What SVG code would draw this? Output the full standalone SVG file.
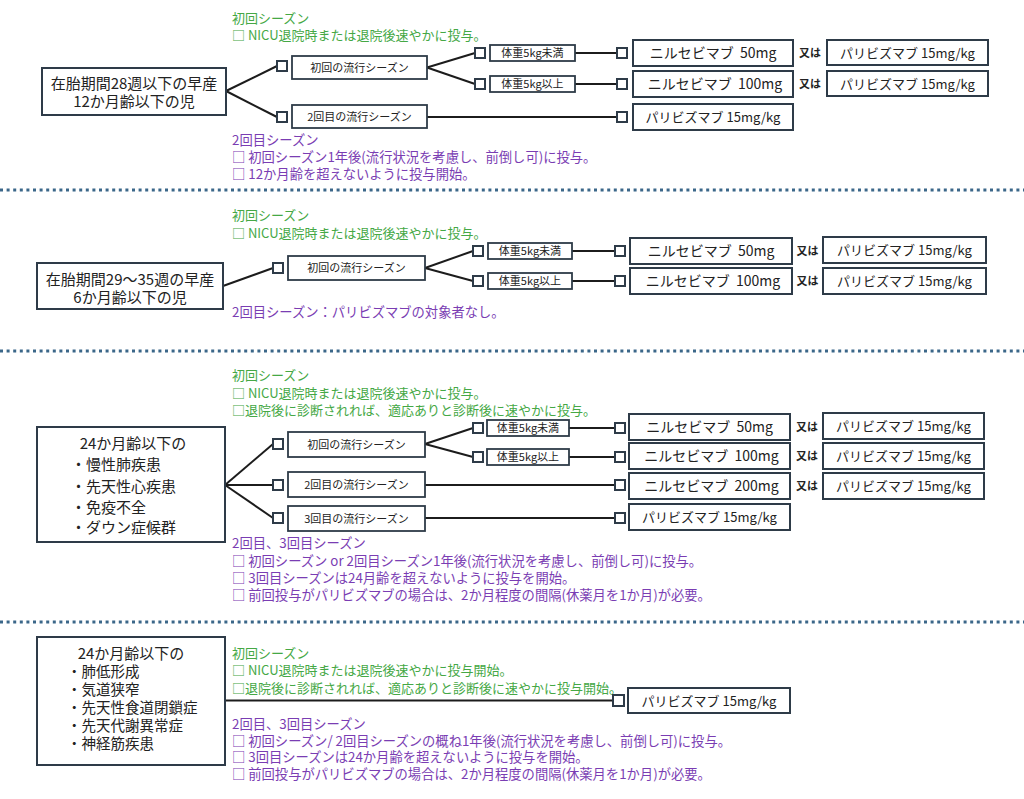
<svg xmlns="http://www.w3.org/2000/svg" width="1024" height="799" viewBox="0 0 1024 799">
<style>
text{font-family:"Noto Sans CJK JP","Noto Sans CJK SC",sans-serif}
.box{fill:#fff;stroke:#2e3b48;stroke-width:2}
.sb{fill:#fff;stroke:#2e3b48;stroke-width:1.8}
.cb{fill:#fff;stroke:#2e3b48;stroke-width:2}
.ln{stroke:#1c1c1c;stroke-width:2;fill:none}
.dot{stroke:#3b6789;stroke-width:3;stroke-dasharray:3 3.6;fill:none}
.mt{font-size:15px;fill:#222;text-anchor:middle}
.bt{font-size:15px;fill:#222}
.bt4{font-size:14.5px;fill:#222}
.st{font-size:11px;fill:#222;text-anchor:middle}
.wt{font-size:11px;fill:#222;text-anchor:middle}
.dt{font-size:14px;fill:#222;text-anchor:middle;white-space:pre}
.pt{font-size:13px;fill:#222;text-anchor:middle}
.or{font-size:11px;fill:#222;font-weight:bold;text-anchor:middle}
.g{font-size:13px;fill:#45a845}
.p{font-size:13.3px;fill:#7a3db3}
</style>
<rect width="1024" height="799" fill="#fff"/>

<g id="dividers">
<line class="dot" x1="0" y1="190" x2="1024" y2="190"/>
<line class="dot" x1="0" y1="351" x2="1024" y2="351"/>
<line class="dot" x1="0" y1="622" x2="1024" y2="622"/>
</g>

<g id="connectors">
<line class="ln" x1="226" y1="91" x2="277" y2="66"/>
<line class="ln" x1="226" y1="91" x2="277" y2="117"/>
<line class="ln" x1="427" y1="67.5" x2="475" y2="53"/>
<line class="ln" x1="427" y1="67.5" x2="475" y2="84"/>
<line class="ln" x1="575" y1="53" x2="617" y2="53"/>
<line class="ln" x1="575" y1="84" x2="617" y2="84"/>
<line class="ln" x1="427" y1="117" x2="617" y2="117"/>

<line class="ln" x1="223" y1="286" x2="273" y2="268"/>
<line class="ln" x1="425" y1="268" x2="473" y2="251"/>
<line class="ln" x1="425" y1="268" x2="473" y2="281"/>
<line class="ln" x1="572" y1="251" x2="615" y2="251"/>
<line class="ln" x1="572" y1="281" x2="615" y2="281"/>

<line class="ln" x1="225" y1="485" x2="273" y2="444"/>
<line class="ln" x1="225" y1="485" x2="273" y2="485"/>
<line class="ln" x1="225" y1="485" x2="273" y2="518"/>
<line class="ln" x1="425" y1="444" x2="473" y2="428"/>
<line class="ln" x1="425" y1="444" x2="473" y2="457"/>
<line class="ln" x1="569" y1="428" x2="615" y2="428"/>
<line class="ln" x1="569" y1="457" x2="615" y2="457"/>
<line class="ln" x1="425" y1="485" x2="615" y2="485"/>
<line class="ln" x1="425" y1="518" x2="615" y2="518"/>

<line class="ln" x1="225" y1="700.5" x2="613" y2="700.5"/>
</g>

<!-- Section 1 -->
<g id="note1a">
<text class="g" x="232" y="23">初回シーズン</text>
<text class="g" x="232" y="40">□ NICU退院時または退院後速やかに投与。</text>
</g>
<g id="n1">
<rect class="box" x="42" y="68" width="184" height="47"/>
<text class="mt" x="134" y="89">在胎期間28週以下の早産</text>
<text class="mt" x="134" y="107">12か月齢以下の児</text>
</g>
<g id="s1a">
<rect class="cb" x="277" y="61" width="10" height="10"/>
<rect class="sb" x="292" y="56" width="135" height="23"/>
<text class="st" x="359.5" y="71.5">初回の流行シーズン</text>
</g>
<g id="s1b">
<rect class="cb" x="277" y="112" width="10" height="10"/>
<rect class="sb" x="292" y="105" width="135" height="23"/>
<text class="st" x="359.5" y="120.5">2回目の流行シーズン</text>
</g>
<g id="w1a">
<rect class="cb" x="475" y="48" width="10" height="10"/>
<rect class="sb" x="490" y="45" width="85" height="16"/>
<text class="wt" x="532.5" y="57">体重5kg未満</text>
</g>
<g id="w1b">
<rect class="cb" x="475" y="79" width="10" height="10"/>
<rect class="sb" x="490" y="76" width="85" height="16"/>
<text class="wt" x="532.5" y="88">体重5kg以上</text>
</g>
<g id="d1a">
<rect class="cb" x="617" y="48" width="10" height="10"/>
<rect class="box" x="633" y="40" width="160" height="26"/>
<text class="dt" x="713" y="58" xml:space="preserve">ニルセビマブ  50mg</text>
</g>
<g id="or1a"><text class="or" x="810" y="57">又は</text></g>
<g id="p1a">
<rect class="box" x="827" y="40" width="161" height="25"/>
<text class="pt" x="907.5" y="57.5">パリビズマブ 15mg/kg</text>
</g>
<g id="d1b">
<rect class="cb" x="617" y="79" width="10" height="10"/>
<rect class="box" x="633" y="71" width="160" height="26"/>
<text class="dt" x="715" y="89" xml:space="preserve">ニルセビマブ  100mg</text>
</g>
<g id="or1b"><text class="or" x="810" y="88">又は</text></g>
<g id="p1b">
<rect class="box" x="827" y="71" width="161" height="25"/>
<text class="pt" x="907.5" y="88.5">パリビズマブ 15mg/kg</text>
</g>
<g id="p1c">
<rect class="cb" x="617" y="112" width="10" height="10"/>
<rect class="box" x="633" y="104" width="160" height="26"/>
<text class="pt" x="713" y="121.5">パリビズマブ 15mg/kg</text>
</g>
<g id="note1b">
<text class="p" x="232" y="145">2回目シーズン</text>
<text class="p" x="232" y="162">□ 初回シーズン1年後(流行状況を考慮し、前倒し可)に投与。</text>
<text class="p" x="232" y="179">□ 12か月齢を超えないように投与開始。</text>
</g>

<!-- Section 2 -->
<g id="note2a">
<text class="g" x="232" y="220">初回シーズン</text>
<text class="g" x="232" y="238">□ NICU退院時または退院後速やかに投与。</text>
</g>
<g id="n2">
<rect class="box" x="37" y="263" width="186" height="46"/>
<text class="mt" x="130" y="285">在胎期間29～35週の早産</text>
<text class="mt" x="130" y="303">6か月齢以下の児</text>
</g>
<g id="s2a">
<rect class="cb" x="273" y="263" width="10" height="10"/>
<rect class="sb" x="288" y="256" width="137" height="24"/>
<text class="st" x="356.5" y="272">初回の流行シーズン</text>
</g>
<g id="w2a">
<rect class="cb" x="473" y="246" width="10" height="10"/>
<rect class="sb" x="488" y="243" width="84" height="16"/>
<text class="wt" x="530" y="255">体重5kg未満</text>
</g>
<g id="w2b">
<rect class="cb" x="473" y="276" width="10" height="10"/>
<rect class="sb" x="488" y="273" width="84" height="16"/>
<text class="wt" x="530" y="285">体重5kg以上</text>
</g>
<g id="d2a">
<rect class="cb" x="615" y="246" width="10" height="10"/>
<rect class="box" x="630" y="238" width="162" height="26"/>
<text class="dt" x="711" y="256" xml:space="preserve">ニルセビマブ  50mg</text>
</g>
<g id="or2a"><text class="or" x="807.5" y="255">又は</text></g>
<g id="p2a">
<rect class="box" x="823" y="237" width="163" height="26"/>
<text class="pt" x="904.5" y="255">パリビズマブ 15mg/kg</text>
</g>
<g id="d2b">
<rect class="cb" x="615" y="276" width="10" height="10"/>
<rect class="box" x="630" y="268" width="162" height="26"/>
<text class="dt" x="713" y="286" xml:space="preserve">ニルセビマブ  100mg</text>
</g>
<g id="or2b"><text class="or" x="807.5" y="285">又は</text></g>
<g id="p2b">
<rect class="box" x="823" y="268" width="163" height="26"/>
<text class="pt" x="904.5" y="286">パリビズマブ 15mg/kg</text>
</g>
<g id="note2b">
<text class="p" x="232" y="317">2回目シーズン：パリビズマブの対象者なし。</text>
</g>

<!-- Section 3 -->
<g id="note3a">
<text class="g" x="232" y="380">初回シーズン</text>
<text class="g" x="232" y="398">□ NICU退院時または退院後速やかに投与。</text>
<text class="g" x="232" y="415">□退院後に診断されれば、適応ありと診断後に速やかに投与。</text>
</g>
<g id="n3">
<rect class="box" x="37" y="427" width="188" height="115"/>
<text class="mt" x="133" y="448.5">24か月齢以下の</text>
<text class="bt" x="71" y="470">・慢性肺疾患</text>
<text class="bt" x="71" y="492">・先天性心疾患</text>
<text class="bt" x="71" y="512.5">・免疫不全</text>
<text class="bt" x="71" y="533">・ダウン症候群</text>
</g>
<g id="s3a">
<rect class="cb" x="273" y="439" width="10" height="10"/>
<rect class="sb" x="288" y="432" width="137" height="25"/>
<text class="st" x="356.5" y="448.5">初回の流行シーズン</text>
</g>
<g id="s3b">
<rect class="cb" x="273" y="480" width="10" height="10"/>
<rect class="sb" x="288" y="472" width="137" height="25"/>
<text class="st" x="356.5" y="488.5">2回目の流行シーズン</text>
</g>
<g id="s3c">
<rect class="cb" x="273" y="513" width="10" height="10"/>
<rect class="sb" x="288" y="506" width="137" height="25"/>
<text class="st" x="356.5" y="522.5">3回目の流行シーズン</text>
</g>
<g id="w3a">
<rect class="cb" x="473" y="423" width="10" height="10"/>
<rect class="sb" x="487" y="420" width="82" height="16"/>
<text class="wt" x="528" y="432">体重5kg未満</text>
</g>
<g id="w3b">
<rect class="cb" x="473" y="452" width="10" height="10"/>
<rect class="sb" x="487" y="449" width="82" height="16"/>
<text class="wt" x="528" y="461">体重5kg以上</text>
</g>
<g id="d3a">
<rect class="cb" x="615" y="423" width="10" height="10"/>
<rect class="box" x="629" y="414" width="161" height="26"/>
<text class="dt" x="709.5" y="432" xml:space="preserve">ニルセビマブ  50mg</text>
</g>
<g id="or3a"><text class="or" x="807" y="431">又は</text></g>
<g id="p3a">
<rect class="box" x="823" y="413" width="161" height="26"/>
<text class="pt" x="903.5" y="431">パリビズマブ 15mg/kg</text>
</g>
<g id="d3b">
<rect class="cb" x="615" y="452" width="10" height="10"/>
<rect class="box" x="629" y="443" width="161" height="26"/>
<text class="dt" x="711.5" y="461" xml:space="preserve">ニルセビマブ  100mg</text>
</g>
<g id="or3b"><text class="or" x="807" y="460">又は</text></g>
<g id="p3b">
<rect class="box" x="823" y="443" width="161" height="26"/>
<text class="pt" x="903.5" y="461">パリビズマブ 15mg/kg</text>
</g>
<g id="d3c">
<rect class="cb" x="615" y="480" width="10" height="10"/>
<rect class="box" x="629" y="473" width="161" height="26"/>
<text class="dt" x="711.5" y="491" xml:space="preserve">ニルセビマブ  200mg</text>
</g>
<g id="or3c"><text class="or" x="807" y="490">又は</text></g>
<g id="p3c">
<rect class="box" x="823" y="473" width="161" height="26"/>
<text class="pt" x="903.5" y="491">パリビズマブ 15mg/kg</text>
</g>
<g id="p3d">
<rect class="cb" x="615" y="513" width="10" height="10"/>
<rect class="box" x="629" y="504" width="161" height="26"/>
<text class="pt" x="709.5" y="522">パリビズマブ 15mg/kg</text>
</g>
<g id="note3b">
<text class="p" x="232" y="548">2回目、3回目シーズン</text>
<text class="p" x="232" y="566">□ 初回シーズン or 2回目シーズン1年後(流行状況を考慮し、前倒し可)に投与。</text>
<text class="p" x="232" y="583">□ 3回目シーズンは24月齢を超えないように投与を開始。</text>
<text class="p" x="232" y="600">□ 前回投与がパリビズマブの場合は、2か月程度の間隔(休薬月を1か月)が必要。</text>
</g>

<!-- Section 4 -->
<g id="n4">
<rect class="box" x="37" y="637" width="188" height="128"/>
<text class="mt" x="131" y="658.5">24か月齢以下の</text>
<text class="bt4" x="67" y="677">・肺低形成</text>
<text class="bt4" x="67" y="695">・気道狭窄</text>
<text class="bt4" x="67" y="713">・先天性食道閉鎖症</text>
<text class="bt4" x="67" y="731">・先天代謝異常症</text>
<text class="bt4" x="67" y="749">・神経筋疾患</text>
</g>
<g id="note4a">
<text class="g" x="232" y="658">初回シーズン</text>
<text class="g" x="232" y="675">□ NICU退院時または退院後速やかに投与開始。</text>
<text class="g" x="232" y="693">□退院後に診断されれば、適応ありと診断後に速やかに投与開始。</text>
</g>
<g id="p4">
<rect class="cb" x="613" y="695" width="11" height="11"/>
<rect class="box" x="628" y="688" width="162" height="25"/>
<text class="pt" x="709" y="705.5">パリビズマブ 15mg/kg</text>
</g>
<g id="note4b">
<text class="p" x="232" y="729">2回目、3回目シーズン</text>
<text class="p" x="232" y="746">□ 初回シーズン/ 2回目シーズンの概ね1年後(流行状況を考慮し、前倒し可)に投与。</text>
<text class="p" x="232" y="762">□ 3回目シーズンは24か月齢を超えないように投与を開始。</text>
<text class="p" x="232" y="779">□ 前回投与がパリビズマブの場合は、2か月程度の間隔(休薬月を1か月)が必要。</text>
</g>
</svg>
